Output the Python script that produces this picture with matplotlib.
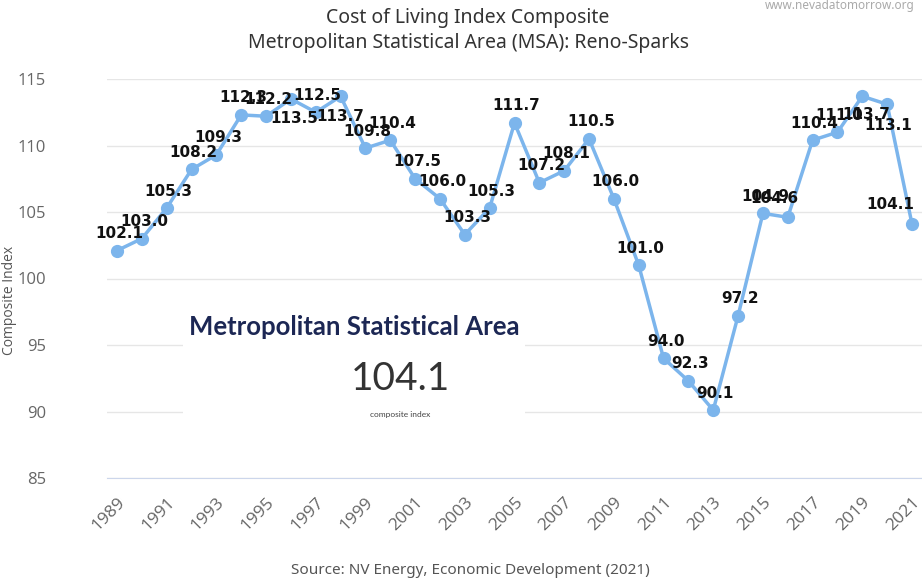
import numpy as np
import matplotlib
matplotlib.use("Agg")
import matplotlib.pyplot as plt
from matplotlib.patches import Rectangle

# data
years = list(range(1989, 2022))
index_vals = [102.1, 103.0, 105.3, 108.2, 109.3, 112.3, 112.2, 113.5, 112.5, 113.7,
              109.8, 110.4, 107.5, 106.0, 103.3, 105.3, 111.7, 107.2, 108.1, 110.5,
              106.0, 101.0, 94.0, 92.3, 90.1, 97.2, 104.9, 104.6, 110.4, 111.0,
              113.7, 113.1, 104.1]
y_ticks = [85, 90, 95, 100, 105, 110, 115]
x_ticks = list(range(1989, 2022, 2))

# label placement (pixels), the library shuffles a few to avoid overlaps
default_off = (2, 17)
label_off = {1996: (3, -20), 1998: (0, -20), 2016: (-13, 19),
             2019: (4, -18), 2020: (1, -21), 2021: (-22, 19)}

line_col = "#7cb5ec"

fig = plt.figure(figsize=(9.22, 5.84), dpi=100)
ax = fig.add_axes([107/922, 1 - 478/584, 1 - 107/922, (478 - 79)/584])

ax.plot(years, index_vals, color=line_col, lw=2.5, marker="o", ms=8.5,
        mec=line_col, mfc=line_col, zorder=4, clip_on=False)

for yr, v in zip(years, index_vals):
    dx, dy = label_off.get(yr, default_off)
    ax.annotate(f"{v:.1f}", (yr, v), xytext=(dx, dy), textcoords="offset pixels",
                ha="center", va="center", fontsize=11, fontweight="bold",
                color="#111111", family="DejaVu Sans", zorder=6, annotation_clip=False)

ax.set_xlim(1989 - 10/24.8, 2021 + 10/24.8)
ax.set_ylim(85, 115)
ax.set_yticks(y_ticks)
ax.set_xticks(x_ticks)
ax.set_xticklabels([str(x) for x in x_ticks], rotation=45, ha="right",
                   rotation_mode="anchor", fontsize=12.5, color="#666666",
                   family="Open Sans")
ax.set_yticklabels([str(y) for y in y_ticks], fontsize=12, color="#666666",
                   family="Open Sans")
ax.tick_params(axis="both", length=0)
ax.tick_params(axis="y", pad=44)
ax.tick_params(axis="x", pad=12)
ax.grid(axis="y", color="#e6e6e6", lw=1)
ax.set_axisbelow(True)
for s in ["top", "right", "left"]:
    ax.spines[s].set_visible(False)
ax.spines["bottom"].set_color("#ccd6eb")

ax.set_ylabel("Composite Index", fontsize=10, color="#555555", family="Open Sans",
              labelpad=0)
ax.yaxis.set_label_coords(-90/815, (478 - 300)/399)

# the white overlay card
card = Rectangle((183/922, 1 - 432/584), (525 - 183)/922, (432 - 308)/584,
                 transform=fig.transFigure, facecolor="white", edgecolor="none",
                 zorder=3)
fig.patches.append(card)
fig.text(354/922, 1 - 327/584, "Metropolitan Statistical Area", ha="center",
         va="center", fontsize=18.5, fontweight="bold", color="#1c2754",
         family="Lato", zorder=5)
fig.text(400/922, 1 - 379/584, "104.1", ha="center", va="center", fontsize=28,
         color="#333333", family="Lato", zorder=5)
fig.text(400/922, 1 - 414/584, "composite index", ha="center", va="center",
         fontsize=6, color="#444444", family="Lato", zorder=5)

# titles and notes
fig.text(468/922, 1 - 18/584, "Cost of Living Index Composite", ha="center",
         va="center", fontsize=14, color="#333333", family="Noto Sans")
fig.text(468/922, 1 - 43/584, "Metropolitan Statistical Area (MSA): Reno-Sparks",
         ha="center", va="center", fontsize=14, color="#333333", family="Noto Sans")
fig.text(765/922, 1 - 6/584, "www.nevadatomorrow.org", ha="left", va="center",
         fontsize=8.5, color="#aaaaaa", family="Noto Sans")
fig.text(470/922, 1 - 571/584, "Source: NV Energy, Economic Development (2021)",
         ha="center", va="center", fontsize=11, color="#555555", family="Noto Sans")

fig.savefig("out.png", dpi=100)
